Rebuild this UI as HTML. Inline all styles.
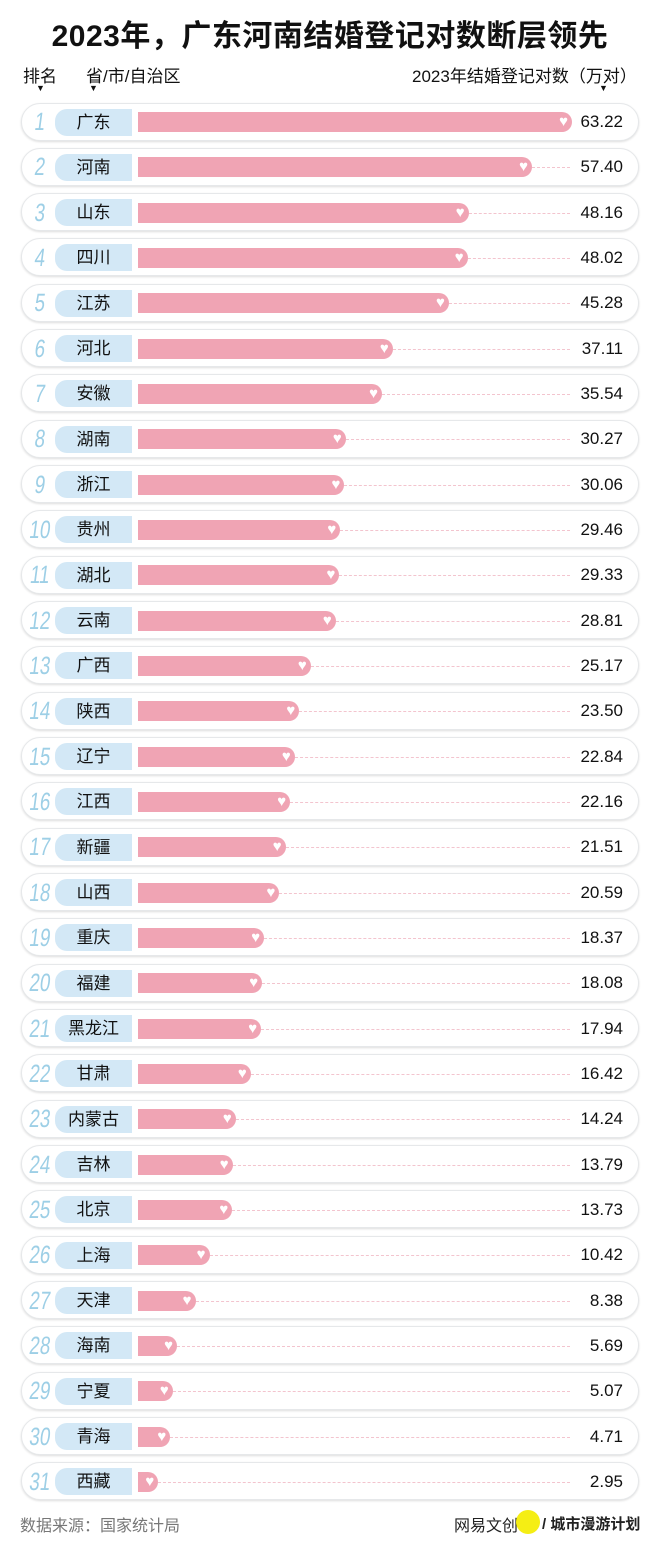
<!DOCTYPE html>
<html><head><meta charset="utf-8"><style>
body{margin:0;width:660px;height:1550px;background:#fff;position:relative;overflow:hidden;font-family:"Liberation Sans","Noto Sans CJK SC",sans-serif;color:#111}
.a{position:absolute}
.title{left:0;width:660px;top:14px;text-align:center;font-size:30px;font-weight:bold;line-height:46px;letter-spacing:0.5px}
.row{position:absolute;left:21px;width:616px;height:36px;border:1.5px solid #e6e8ea;border-radius:19px;box-shadow:0 1px 2px #ddd;background:#fff}
.rk{position:absolute;left:22px;width:36px;text-align:center;font-size:25px;color:#9dcfe6;font-family:"Liberation Sans Narrow","Liberation Sans",sans-serif;line-height:36px;transform:scaleX(0.75) skewX(-10deg)}
.lb{position:absolute;left:55px;width:77px;height:27px;background:#d3e8f6;font-size:17px;line-height:27px;text-align:center;border-radius:12px 0 0 12px}
.bar{position:absolute;left:138px;height:20px;background:#f0a4b4;border-radius:0 10px 10px 0}
.ht{position:absolute;right:4px;top:1px;color:#fff;font-size:15px;line-height:18px}
.dl{position:absolute;height:0;border-top:1px dashed #f3c4ce}
.v{position:absolute;right:37px;font-size:17px;line-height:20px;text-align:right}
.arr{font-size:9px}
</style></head><body>
<div class="a title">2023年，广东河南结婚登记对数断层领先</div>
<div class="a" style="left:23px;top:62px;font-size:17px">排名</div>
<div class="a" style="left:86px;top:62px;font-size:17px">省/市/自治区</div>
<div class="a" style="left:412px;top:62px;font-size:17px">2023年结婚登记对数（万对）</div>
<div class="a arr" style="left:36px;top:83px">▼</div>
<div class="a arr" style="left:89px;top:83px">▼</div>
<div class="a arr" style="left:599px;top:83px">▼</div>
<div id="c"></div>
<div class="a" style="left:20px;top:1512px;font-size:16px;color:#777">数据来源：国家统计局</div>
<div class="a" style="left:454px;top:1512px;font-size:16px;color:#222">网易文创</div>
<div class="a" style="left:516px;top:1510px;width:24px;height:24px;border-radius:12px;background:#f5ee14"></div>
<div class="a" style="left:542px;top:1513px;font-size:15px;color:#222;font-weight:bold">/ 城市漫游计划</div>
<script>
var d=[["广东",63.22],["河南",57.40],["山东",48.16],["四川",48.02],["江苏",45.28],["河北",37.11],["安徽",35.54],["湖南",30.27],["浙江",30.06],["贵州",29.46],["湖北",29.33],["云南",28.81],["广西",25.17],["陕西",23.50],["辽宁",22.84],["江西",22.16],["新疆",21.51],["山西",20.59],["重庆",18.37],["福建",18.08],["黑龙江",17.94],["甘肃",16.42],["内蒙古",14.24],["吉林",13.79],["北京",13.73],["上海",10.42],["天津",8.38],["海南",5.69],["宁夏",5.07],["青海",4.71],["西藏",2.95]];
var h="";
for(var i=0;i<d.length;i++){
 var cy=122+i*45.33;var w=d[i][1]*6.865;
 h+='<div class="row" style="top:'+(cy-19.5)+'px"></div>';
 h+='<div class="a rk" style="top:'+(cy-18)+'px;left:22px">'+(i+1)+'</div>';
 h+='<div class="a lb" style="top:'+(cy-13.5)+'px">'+d[i][0]+'</div>';
 h+='<div class="dl" style="top:'+cy+'px;left:'+(138+w)+'px;width:'+Math.max(0,570-138-w)+'px"></div>';
 h+='<div class="bar" style="top:'+(cy-10)+'px;width:'+w+'px"><span class="ht">♥</span></div>';
 h+='<div class="v" style="top:'+(cy-10)+'px">'+d[i][1].toFixed(2)+'</div>';
}
document.getElementById("c").innerHTML=h;
</script>
</body></html>
